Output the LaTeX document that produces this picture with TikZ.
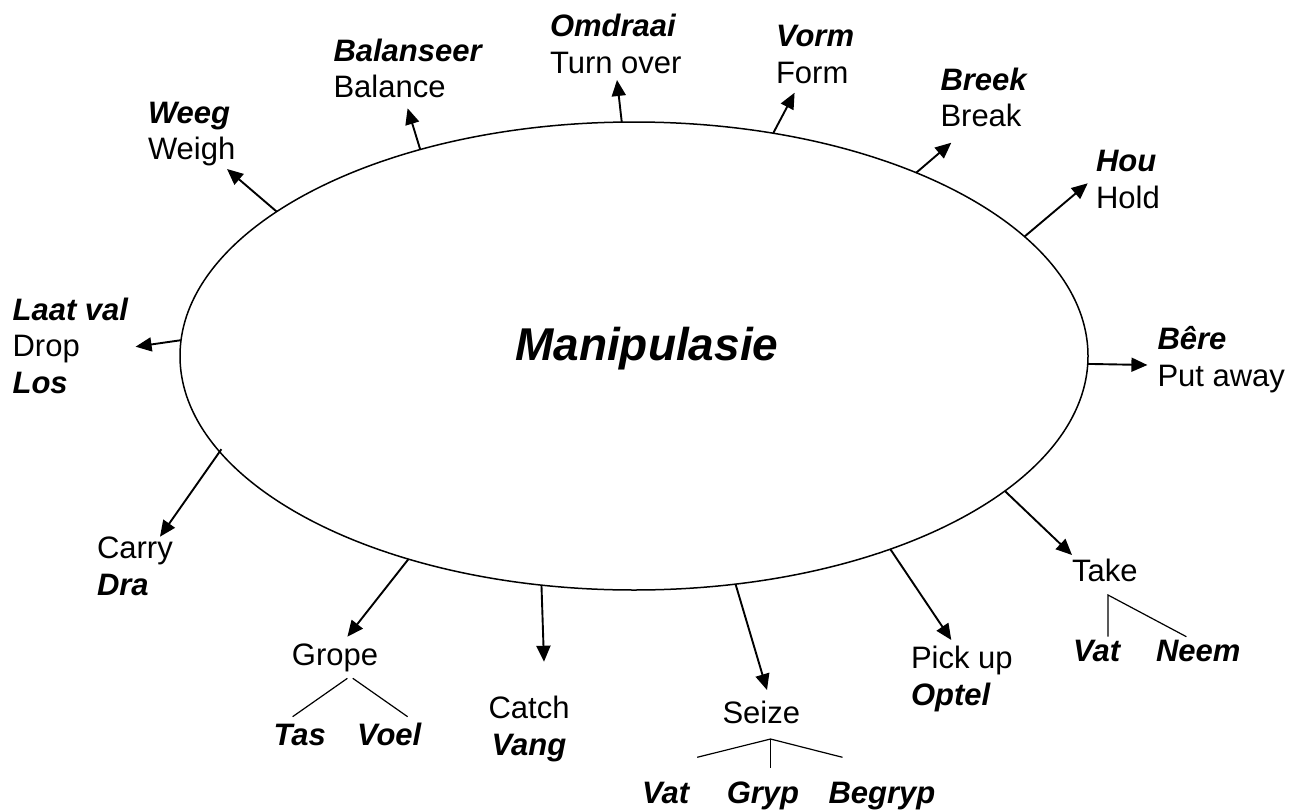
\documentclass[tikz,border=0pt]{standalone}
\usepackage{fontspec}
\setmainfont{Liberation Sans}
\usetikzlibrary{shapes.geometric,arrows.meta}

% Afrikaans terms are set bold italic
\newcommand\af[1]{\textbf{\textit{#1}}}
\newcommand\stackl[1]{\begin{tabular}[t]{@{}l@{}}#1\end{tabular}}
\newcommand\stackc[1]{\begin{tabular}[t]{@{}c@{}}#1\end{tabular}}

\tikzset{
  lbl/.style={inner sep=0pt, outer sep=0pt, anchor=base west,
    font=\fontsize{31}{36.7}\selectfont},
  lblc/.style={lbl, anchor=base},
  spoke/.style={line width=1.9pt, -{Triangle[length=16pt,width=14pt]}},
  branch/.style={line width=1.2pt},
}

\begin{document}
\begin{tikzpicture}[x=1pt, y=-1pt]
\useasboundingbox (0,0) rectangle (1304,809);

% central ellipse and title
\node[draw, ellipse, line width=1.5pt, inner sep=0pt, outer sep=0pt,
      minimum width=908pt, minimum height=468pt] (core) at (634,356) {};
\node[inner sep=0pt, anchor=base west,
      font=\fontsize{46}{52}\selectfont\bfseries\itshape] (title)
      at (515,360) {Manipulasie};

% labels around the ellipse
\node[lbl] (weeg)  at (148,123)     {\stackl{\af{Weeg}\\Weigh}};
\node[lbl] (bal)   at (333.5,61)    {\stackl{\af{Balanseer}\\Balance}};
\node[lbl] (omd)   at (550,36.7)    {\stackl{\af{Omdraai}\\Turn over}};
\node[lbl] (vorm)  at (776,46.7)    {\stackl{\af{Vorm}\\Form}};
\node[lbl] (breek) at (940.5,90)    {\stackl{\af{Breek}\\Break}};
\node[lbl] (hou)   at (1096,171.7)  {\stackl{\af{Hou}\\Hold}};
\node[lbl] (laat)  at (12.6,320)    {\stackl{\af{Laat val}\\Drop\\\af{Los}}};
\node[lbl] (bere)  at (1157.5,349.3){\stackl{\af{Bêre}\\Put away}};
\node[lbl] (carry) at (97,558.3)    {\stackl{Carry\\\af{Dra}}};
\node[lblc] (grope) at (335,665)    {Grope};
\node[lbl] (tas)   at (273.7,745)   {\af{Tas}};
\node[lbl] (voel)  at (357,745)     {\af{Voel}};
\node[lblc] (catch) at (529,718.3)  {\stackc{Catch\\\af{Vang}}};
\node[lblc] (seize) at (761.3,723.3){Seize};
\node[lbl] (vata)  at (642,803)     {\af{Vat}};
\node[lbl] (gryp)  at (726.8,803)   {\af{Gryp}};
\node[lbl] (begryp) at (828.5,803)  {\af{Begryp}};
\node[lbl] (pick)  at (911,668.3)   {\stackl{Pick up\\\af{Optel}}};
\node[lbl] (take)  at (1072,581.7)  {Take};
\node[lbl] (vatb)  at (1073,661.7)  {\af{Vat}};
\node[lbl] (neem)  at (1156,661.7)  {\af{Neem}};

% arrow tips next to each label
\coordinate (t-weeg)  at (227,169);
\coordinate (t-bal)   at (407.6,108.3);
\coordinate (t-omd)   at (617,80);
\coordinate (t-vorm)  at (794.6,92.7);
\coordinate (t-breek) at (951.3,142.7);
\coordinate (t-hou)   at (1087.7,183.3);
\coordinate (t-laat)  at (135.6,346.7);
\coordinate (t-bere)  at (1147.4,365);
\coordinate (t-carry) at (160,536.7);
\coordinate (t-grope) at (347.4,636.7);
\coordinate (t-catch) at (544,661.7);
\coordinate (t-seize) at (767,690);
\coordinate (t-pick)  at (951.3,640);
\coordinate (t-take)  at (1072,555);

% spokes from the ellipse
\draw[spoke] (core.158.5) -- (t-weeg);
\draw[spoke] (core.136.5) -- (t-bal);
\draw[spoke] (core.93.7)  -- (t-omd);
\draw[spoke] (core.58.1)  -- (t-vorm);
\draw[spoke] (core.33.2)  -- (t-breek);
\draw[spoke] (core.17.9)  -- (t-hou);
\draw[spoke] (core.178.8) -- (t-laat);
\draw[spoke] (core.-1.1)  -- (t-bere);
\draw[spoke, shorten <=-3pt] (core.193.6) -- (t-carry);
\draw[spoke] (core.222.3) -- (t-grope);
\draw[spoke] (core.248.7) -- (t-catch);
\draw[spoke] (core.294.9) -- (t-seize);
\draw[spoke] (core.323.2) -- (t-pick);
\draw[spoke] (core.340.9) -- (t-take);

% sub-term branches
\coordinate (g-l0) at (347.4,678.3);
\coordinate (g-l1) at (292.6,716.7);
\coordinate (g-r0) at (352.8,678.3);
\coordinate (g-r1) at (407.6,716.7);
\draw[branch] (g-l0) -- (g-l1);
\draw[branch] (g-r0) -- (g-r1);

\coordinate (s-top) at (770.5,739);
\coordinate (s-l)   at (697.2,757.3);
\coordinate (s-r)   at (842.5,757.3);
\coordinate (s-bot) at (770.5,768.3);
\draw[branch] (s-l) -- (s-top) -- (s-r);
\draw[branch] (s-top) -- (s-bot);

\coordinate (k-top) at (1108,595);
\coordinate (k-bot) at (1108,636.7);
\coordinate (k-r)   at (1186.4,636.7);
\draw[branch] (k-bot) -- (k-top) -- (k-r);
\end{tikzpicture}
\end{document}
